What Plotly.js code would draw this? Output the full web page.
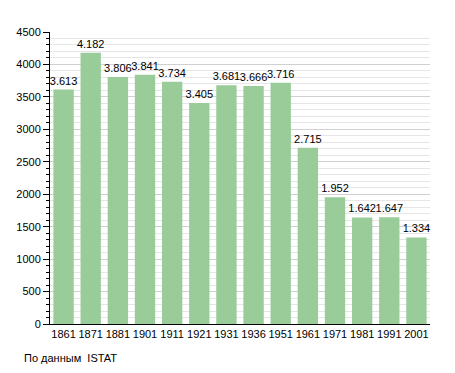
<!DOCTYPE html>
<html><head><meta charset="utf-8">
<script src="https://cdn.plot.ly/plotly-3.0.1.min.js"></script>
<style>html,body{margin:0;padding:0;background:#fff}#c{width:455px;height:373px}</style>
</head><body><div id="c"></div>
<script>
const years = ['1861','1871','1881','1901','1911','1921','1931','1936','1951','1961','1971','1981','1991','2001'];
const population = [3613,4182,3806,3841,3734,3405,3681,3666,3716,2715,1952,1642,1647,1334];
const yTicks = [0,500,1000,1500,2000,2500,3000,3500,4000,4500];
const source = 'По данным  ISTAT';

Plotly.newPlot('c', [{
  type: 'bar', x: years, y: population,
  marker: {color: '#99cc99'},
  texttemplate: '%{y:,}', textposition: 'outside', cliponaxis: false, constraintext: 'none',
  textfont: {family: 'Liberation Sans, Arial, sans-serif', size: 11, color: '#000'},
  hoverinfo: 'none'
}], {
  width: 455, height: 373,
  margin: {l: 50, r: 25, t: 32, b: 49},
  separators: ',.',
  bargap: 0.25,
  showlegend: false,
  paper_bgcolor: '#fff', plot_bgcolor: '#fff',
  font: {family: 'Liberation Sans, Arial, sans-serif', size: 11, color: '#000'},
  xaxis: {type: 'category', showline: true, linecolor: '#000', linewidth: 1, ticks: '', showgrid: false,
          tickfont: {size: 11}},
  yaxis: {range: [0, 4500], tickvals: yTicks, showline: true, linecolor: '#000', linewidth: 1,
          ticks: 'outside', ticklen: 6, tickcolor: '#000', showgrid: true, gridcolor: '#d0d0d0', gridwidth: 1,
          zeroline: false, tickfont: {size: 11},
          minor: {dtick: 100, tick0: 0, showgrid: true, gridcolor: '#e6e6e6', ticks: 'outside', ticklen: 3, tickcolor: '#000'}},
  annotations: [{text: source, xref: 'paper', yref: 'paper', x: -0.075, y: -0.116, xanchor: 'left', yanchor: 'middle',
                 showarrow: false, font: {size: 11, color: '#000'}}]
}, {displayModeBar: false, staticPlot: true});
</script></body></html>
